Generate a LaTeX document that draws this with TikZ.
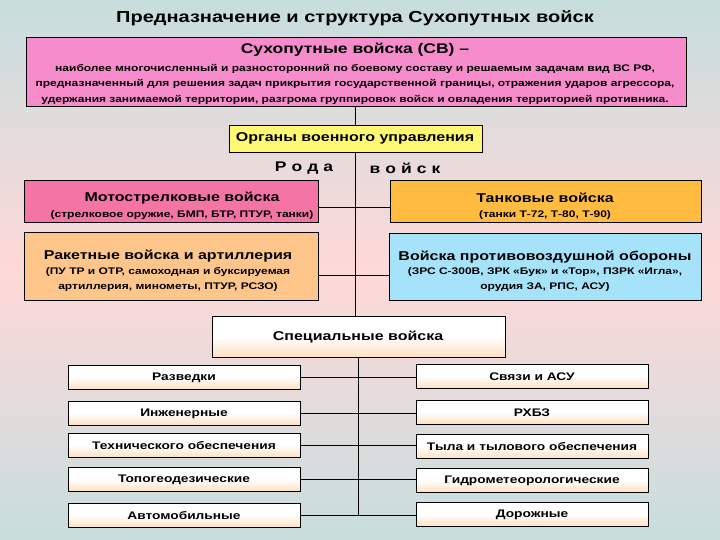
\documentclass[tikz,border=0pt]{standalone}
\usepackage{fontspec}
\setmainfont[FakeStretch=1.25]{Liberation Sans}
\begin{document}
\begin{tikzpicture}[x=1pt,y=-1pt,
 bx/.style={draw=black,line width=0.6pt,anchor=north west,inner sep=0pt},
 sp/.style={bx,top color=white,bottom color=orange!25,middle color=white,shading angle=0},
 ln/.style={line width=0.6pt}]
\useasboundingbox (0,0) rectangle (720,540);
\shade[top color=cyan!25!gray!35,bottom color=pink!60] (0,0) rectangle (720,270);
\shade[top color=pink!60,bottom color=cyan!25!gray!35] (0,270) rectangle (720,540);
\node (title) at (355,18) {\bfseries\fontsize{16}{18}\selectfont Предназначение и структура Сухопутных войск};
\node[bx,fill=magenta!45,minimum width=660pt,minimum height=69pt] (sv) at (26,37) {};
\node (svt) at (355,50) {\bfseries\fontsize{14}{16}\selectfont Сухопутные войска (СВ) --};
\node[align=center,font=\bfseries\fontsize{9.6}{15.5}\selectfont] (svd) at (355,84) {наиболее многочисленный и разносторонний по боевому составу и решаемым задачам вид ВС РФ,\\предназначенный для решения задач прикрытия государственной границы, отражения ударов агрессора,\\удержания занимаемой территории, разгрома группировок войск и овладения территорией противника.};
\node[bx,fill=yellow!55,minimum width=253pt,minimum height=27pt] (org) at (229,125) {};
\node at (355,138.5) (orgt) {\bfseries\fontsize{12.8}{14}\selectfont Органы военного управления};
\node (r1) at (304,168) {\bfseries\fontsize{14}{16}\selectfont Р\hspace{5pt}о\hspace{5pt}д\hspace{5pt}а};
\node (r2) at (405,168) {\bfseries\fontsize{14}{16}\selectfont в\hspace{5pt}о\hspace{5pt}й\hspace{5pt}с\hspace{5pt}к};
\coordinate (c1) at (355,106); \coordinate (c2) at (355,125); \coordinate (c3) at (355,152); \coordinate (c4) at (355,316);
\draw[ln] (c1)--(c2); \draw[ln] (c3)--(c4);
\node[bx,fill=magenta!40!pink,minimum width=294pt,minimum height=42pt] (ms) at (24,180) {};
\node at (182,198) {\bfseries\fontsize{12.8}{14}\selectfont Мотострелковые войска};
\node at (182,215) {\bfseries\fontsize{9.6}{11}\selectfont (стрелковое оружие, БМП, БТР, ПТУР, танки)};
\node[bx,fill=orange!70!yellow!75,minimum width=311pt,minimum height=42pt] (tk) at (390,180) {};
\node at (545,198) {\bfseries\fontsize{12.8}{14}\selectfont Танковые войска};
\node at (545,215) {\bfseries\fontsize{9.6}{11}\selectfont (танки Т-72, Т-80, Т-90)};
\node[bx,fill=orange!45,minimum width=294pt,minimum height=68pt] (ra) at (24,232) {};
\node at (168,256) {\bfseries\fontsize{12.8}{14}\selectfont Ракетные войска и артиллерия};
\node[align=center,font=\bfseries\fontsize{9.6}{15}\selectfont] at (168,279) {(ПУ ТР и ОТР, самоходная и буксируемая\\артиллерия, минометы, ПТУР, РСЗО)};
\node[bx,fill=cyan!35,minimum width=312pt,minimum height=67pt] (pvo) at (389,233) {};
\node at (545,257) {\bfseries\fontsize{12.8}{14}\selectfont Войска противовоздушной обороны};
\node[align=center,font=\bfseries\fontsize{9.6}{15}\selectfont] at (545,280) {(ЗРС С-300В, ЗРК «Бук» и «Тор», ПЗРК «Игла»,\\орудия ЗА, РПС, АСУ)};
\draw[ln] (ms.east|-0,207)--(tk.west|-0,207); \draw[ln] (ra.east|-0,275)--(pvo.west|-0,275);
\node[sp,minimum width=293pt,minimum height=41pt] (spc) at (212,316) {};
\node at (358,337) {\bfseries\fontsize{12.8}{14}\selectfont Специальные войска};
\coordinate (c5) at (358,357); \coordinate (c6) at (358,515);
\draw[ln] (c5)--(c6);
\foreach \n/\y/\t in {a/365/Разведки,b/401/Инженерные,c/433/Технического обеспечения,d/467/Топогеодезические,e/503/Автомобильные}{
 \node[sp,minimum width=232pt,minimum height=24pt] (L\n) at (68,\y) {};
 \node at (184,\y+13) {\bfseries\fontsize{11}{12}\selectfont \t};
 \draw[ln] (300,\y+12)--(416,\y+12);}
\foreach \n/\y/\t in {a/364/Связи и АСУ,b/400/РХБЗ,c/434/Тыла и тылового обеспечения,d/468/Гидрометеорологические,e/502/Дорожные}{
 \node[sp,minimum width=232pt,minimum height=24pt] (R\n) at (416,\y) {};
 \node at (532,\y+13) {\bfseries\fontsize{11}{12}\selectfont \t};}
\end{tikzpicture}
\end{document}
